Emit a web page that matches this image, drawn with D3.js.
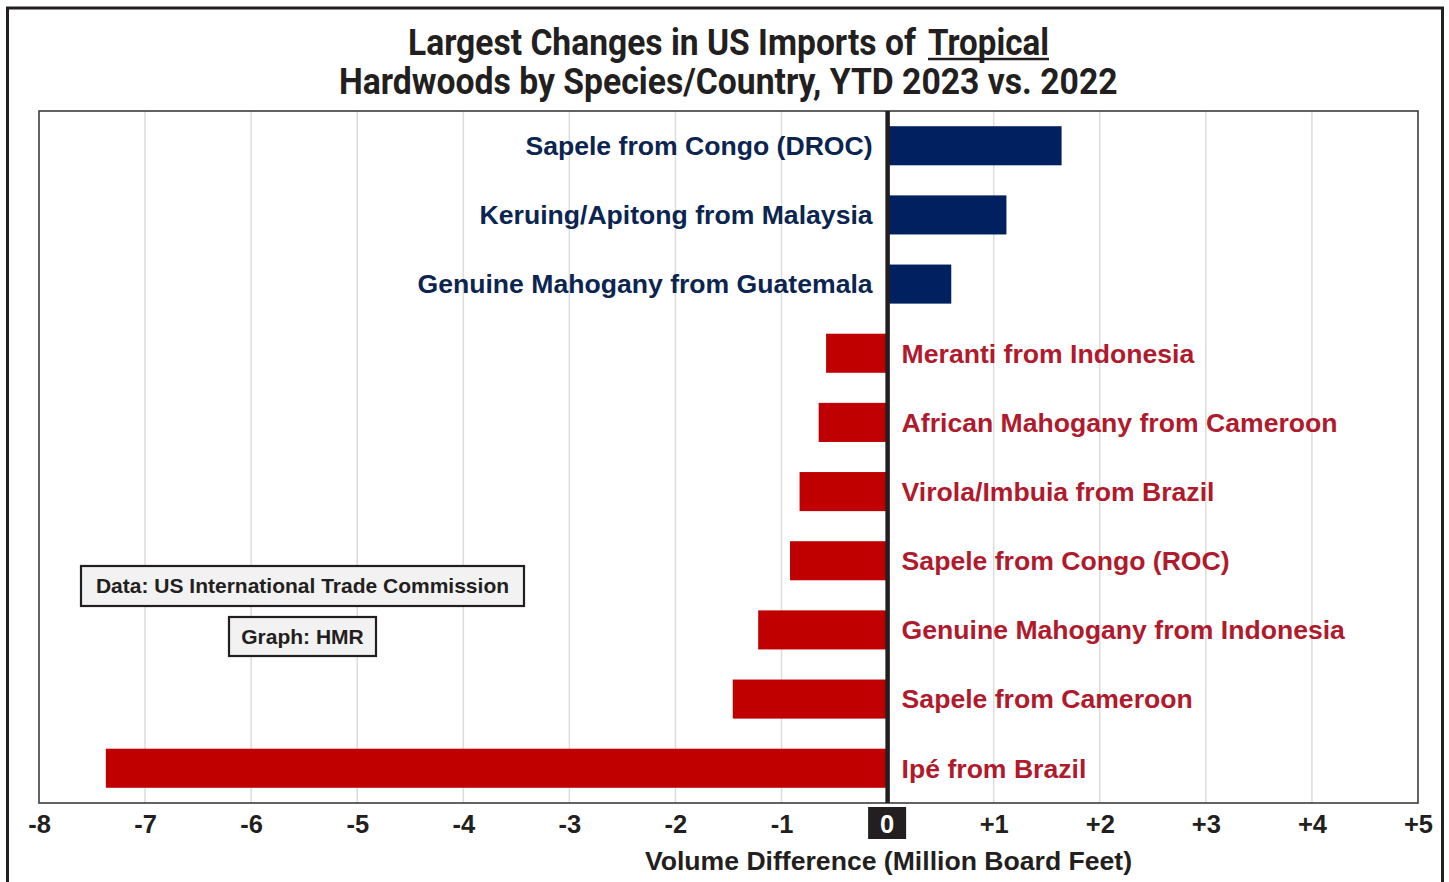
<!DOCTYPE html>
<html>
<head>
<meta charset="utf-8">
<script src="https://cdn.jsdelivr.net/npm/d3@7/dist/d3.min.js"></script>
<style>
  body { margin: 0; background: #fff; }
  svg { display: block; }
</style>
</head>
<body>
<script>
// data (million board feet, YTD 2023 minus YTD 2022)
var categories = [
  "Sapele from Congo (DROC)",
  "Keruing/Apitong from Malaysia",
  "Genuine Mahogany from Guatemala",
  "Meranti from Indonesia",
  "African Mahogany from Cameroon",
  "Virola/Imbuia from Brazil",
  "Sapele from Congo (ROC)",
  "Genuine Mahogany from Indonesia",
  "Sapele from Cameroon",
  "Ipé from Brazil"
];
var changes = [1.64, 1.12, 0.60, -0.58, -0.65, -0.83, -0.92, -1.22, -1.46, -7.37];
var xTicks = [-8, -7, -6, -5, -4, -3, -2, -1, 0, 1, 2, 3, 4, 5];

var width = 1449, height = 882;
var margin = {top: 111, right: 31, bottom: 79, left: 39};

var navy = "#002060", navyText = "#0b2550";
var red = "#c00000", redText = "#b01a2c";
var labelFont = "'Liberation Sans', Arial, sans-serif";

var svg = d3.select("body").append("svg")
  .attr("width", width)
  .attr("height", height);

// outer frame (runs off the bottom)
svg.append("rect")
  .attr("x", 7.5).attr("y", 8)
  .attr("width", 1435).attr("height", 900)
  .attr("fill", "none")
  .attr("stroke", "#231f20")
  .attr("stroke-width", 3);

// title - squeeze Roboto horizontally so it looks condensed
var title = svg.append("g").attr("font-family", "Roboto, sans-serif")
  .attr("font-weight", 700).attr("fill", "#231f20").attr("font-size", 37);

function squeezed(txt, left, baseline, w) {
  var t = title.append("text").attr("x", 0).attr("y", 0).text(txt);
  var k = w / t.node().getComputedTextLength();
  t.attr("transform", "translate(" + left + "," + baseline + ") scale(" + k + ",1)");
  return t;
}

squeezed("Largest Changes in US Imports of", 408, 55, 508);
squeezed("Tropical", 928, 55, 121);
squeezed("Hardwoods by Species/Country, YTD 2023 vs. 2022", 339, 94, 779);

title.append("line")
  .attr("x1", 928).attr("x2", 1049)
  .attr("y1", 59).attr("y2", 59)
  .attr("stroke", "#231f20")
  .attr("stroke-width", 2.5);

// scales
var x = d3.scaleLinear()
  .domain([-8, 5])
  .range([margin.left, width - margin.right]);

var y = d3.scaleBand()
  .domain(categories)
  .range([margin.top, height - margin.bottom])
  .paddingInner(0.435)
  .paddingOuter(0.22);

var plotTop = margin.top, plotBottom = height - margin.bottom;

// gridlines
svg.append("g").selectAll("line")
  .data(xTicks.filter(d => d !== 0 && d !== -8 && d !== 5))
  .enter().append("line")
    .attr("x1", d => x(d)).attr("x2", d => x(d))
    .attr("y1", plotTop).attr("y2", plotBottom)
    .attr("stroke", "#dcdcdc")
    .attr("stroke-width", 1.5);

// bars
svg.append("g").selectAll("rect")
  .data(categories)
  .enter().append("rect")
    .attr("x", (d, i) => Math.min(x(0), x(changes[i])))
    .attr("y", d => y(d))
    .attr("width", (d, i) => Math.abs(x(changes[i]) - x(0)))
    .attr("height", y.bandwidth())
    .attr("fill", (d, i) => changes[i] > 0 ? navy : red);

// category labels, on the far side of the zero line
svg.append("g")
  .attr("font-family", labelFont)
  .attr("font-weight", 700)
  .attr("font-size", 26.6)
  .selectAll("text")
  .data(categories)
  .enter().append("text")
    .attr("x", (d, i) => changes[i] > 0 ? x(0) - 15 : x(0) + 14)
    .attr("y", d => y(d) + y.bandwidth() / 2)
    .attr("dy", "0.35em")
    .attr("text-anchor", (d, i) => changes[i] > 0 ? "end" : "start")
    .attr("fill", (d, i) => changes[i] > 0 ? navyText : redText)
    .text(d => d);

// plot frame
svg.append("rect")
  .attr("x", margin.left).attr("y", plotTop)
  .attr("width", x(5) - x(-8))
  .attr("height", plotBottom - plotTop)
  .attr("fill", "none")
  .attr("stroke", "#3c3c3c")
  .attr("stroke-width", 1.6);

// zero line
svg.append("line")
  .attr("x1", x(0)).attr("x2", x(0))
  .attr("y1", plotTop).attr("y2", plotBottom)
  .attr("stroke", "#231f20")
  .attr("stroke-width", 4.5);

// x axis
var xAxis = svg.append("g")
  .attr("transform", "translate(0," + plotBottom + ")")
  .call(d3.axisBottom(x)
    .tickValues(xTicks)
    .tickSize(0)
    .tickPadding(30)
    .tickFormat(d => d > 0 ? "+" + d : String(d)));

xAxis.select(".domain").remove();
xAxis.selectAll("text")
  .attr("font-family", labelFont)
  .attr("font-weight", 700)
  .attr("font-size", 25.5)
  .attr("fill", "#231f20")
  .attr("dy", "0");

// black box behind the zero tick
xAxis.selectAll(".tick").filter(d => d === 0)
  .insert("rect", "text")
    .attr("x", -20).attr("y", 4)
    .attr("width", 38).attr("height", 32)
    .attr("fill", "#231f20");
xAxis.selectAll(".tick").filter(d => d === 0).select("text")
  .attr("x", -1)
  .attr("fill", "#fff");

// axis title
svg.append("text")
  .attr("x", 888.5).attr("y", 870)
  .attr("text-anchor", "middle")
  .attr("font-family", labelFont)
  .attr("font-weight", 700)
  .attr("font-size", 26.6)
  .attr("fill", "#231f20")
  .text("Volume Difference (Million Board Feet)");

// source notes
var notes = [
  {text: "Data: US International Trade Commission", x: 81, y: 566, w: 443, h: 40},
  {text: "Graph: HMR", x: 229, y: 617, w: 147, h: 39}
];

var note = svg.append("g").selectAll("g")
  .data(notes)
  .enter().append("g");

note.append("rect")
  .attr("x", d => d.x).attr("y", d => d.y)
  .attr("width", d => d.w).attr("height", d => d.h)
  .attr("fill", "#f2f2f2")
  .attr("stroke", "#231f20")
  .attr("stroke-width", 2.2);

note.append("text")
  .attr("x", d => d.x + d.w / 2)
  .attr("y", d => d.y + d.h / 2)
  .attr("dy", "0.35em")
  .attr("text-anchor", "middle")
  .attr("font-family", labelFont)
  .attr("font-weight", 700)
  .attr("font-size", 21)
  .attr("fill", "#231f20")
  .text(d => d.text);
</script>
</body>
</html>
